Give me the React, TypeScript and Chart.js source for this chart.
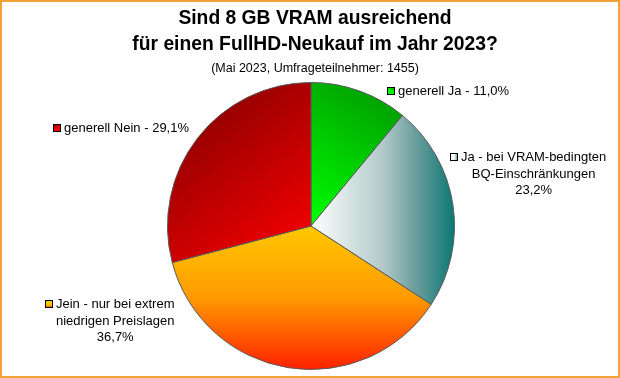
import { useEffect, useRef } from "react";
import { Chart, registerables } from "chart.js";

Chart.register(...registerables);

const titleLines = ["Sind 8 GB VRAM ausreichend", "für einen FullHD-Neukauf im Jahr 2023?"];
const subtitle = "(Mai 2023, Umfrageteilnehmer: 1455)";

const categories = [
  "generell Ja",
  "Ja - bei VRAM-bedingten BQ-Einschränkungen",
  "Jein - nur bei extrem niedrigen Preislagen",
  "generell Nein",
];
const shares = [11.0, 23.2, 36.7, 29.1];
const labelLines = [
  ["generell Ja - 11,0%"],
  ["Ja - bei VRAM-bedingten", "BQ-Einschränkungen", "23,2%"],
  ["Jein - nur bei extrem", "niedrigen Preislagen", "36,7%"],
  ["generell Nein - 29,1%"],
];

// gradient specs: direction relative to pie center/radius, plus colour stops
const gradDirs = [
  [0, 0, 0.64, -1],
  [0, 0, 1, 0],
  [0, 0, 0, 1],
  [-0.85, -0.85, 0, 0.26],
];
const gradStops: [number, string][][] = [
  [[0, "#00ff00"], [1, "#009200"]],
  [[0, "#ffffff"], [0.5, "#b2c9c9"], [0.75, "#629a99"], [1, "#0a7773"]],
  [[0, "#ffc800"], [0.5, "#ff9a00"], [1, "#ff2000"]],
  [[0, "#8a0000"], [1, "#ff0000"]],
];
// label anchors: marker left x, first-line baseline y
const labelAnchors = [
  [387, 95],
  [450, 161],
  [45, 308],
  [53, 132],
];

const FONT = "'Liberation Sans', Arial, sans-serif";

function makeGrad(c: CanvasRenderingContext2D, i: number, x0: number, y0: number, x1: number, y1: number) {
  const g = c.createLinearGradient(x0, y0, x1, y1);
  gradStops[i].forEach(([o, col]) => g.addColorStop(o, col));
  return g;
}

export default function App() {
  const ref = useRef<HTMLCanvasElement>(null);
  useEffect(() => {
    const canvas = ref.current!;
    const decor = {
      id: "decor",
      beforeDraw(chart: any) {
        const c = chart.ctx;
        c.save();
        c.fillStyle = "#ffffff";
        c.fillRect(0, 0, chart.width, chart.height);
        c.restore();
      },
      afterDraw(chart: any) {
        const c: CanvasRenderingContext2D = chart.ctx;
        c.save();
        // frame
        c.strokeStyle = "#f4a234";
        c.lineWidth = 2;
        c.strokeRect(1, 1, chart.width - 2, chart.height - 2);
        // title
        c.fillStyle = "#000";
        c.textAlign = "center";
        c.textBaseline = "alphabetic";
        c.font = `bold 19.3px ${FONT}`;
        c.fillText(titleLines[0], 315, 24);
        c.fillText(titleLines[1], 315, 50);
        c.font = `12.5px ${FONT}`;
        c.fillText(subtitle, 315, 72);
        // labels
        c.font = `13px ${FONT}`;
        labelLines.forEach((lines, i) => {
          const [sx, by] = labelAnchors[i];
          const tx = sx + 11;
          const w0 = c.measureText(lines[0]).width;
          const cxText = tx + w0 / 2;
          // marker
          const d = gradDirs[i];
          const mx = sx + 4, my = by - 4;
          c.fillStyle = makeGrad(c, i, mx + d[0] * 4, my + d[1] * 4, mx + d[2] * 4, my + d[3] * 4);
          c.fillRect(sx, by - 8, 8, 8);
          c.strokeStyle = "#000";
          c.lineWidth = 1;
          c.strokeRect(sx + 0.5, by - 7.5, 7, 7);
          c.fillStyle = "#000";
          c.textAlign = "left";
          c.fillText(lines[0], tx, by);
          c.textAlign = "center";
          for (let k = 1; k < lines.length; k++) {
            c.fillText(lines[k], cxText, by + k * 16.5);
          }
        });
        c.restore();
      },
    };
    const chart = new Chart(canvas, {
      type: "pie",
      data: {
        labels: categories,
        datasets: [
          {
            data: shares,
            backgroundColor: (ctx: any) => {
              const ch = ctx.chart;
              const a = ch.chartArea;
              const i = ctx.dataIndex;
              if (!a || i === undefined) return "#ccc";
              const cx = (a.left + a.right) / 2;
              const cy = (a.top + a.bottom) / 2;
              const r = Math.min(a.right - a.left, a.bottom - a.top) / 2;
              const d = gradDirs[i];
              return makeGrad(ch.ctx, i, cx + d[0] * r, cy + d[1] * r, cx + d[2] * r, cy + d[3] * r);
            },
            borderColor: "#5a5a5a",
            borderWidth: 1,
            hoverOffset: 0,
          },
        ],
      },
      options: {
        responsive: false,
        animation: false,
        devicePixelRatio: 1,
        layout: { padding: { top: 82, bottom: 8, left: 100, right: 98 } },
        plugins: {
          legend: { display: false },
          tooltip: { enabled: false },
          title: { display: false },
        },
      },
      plugins: [decor],
    });
    return () => chart.destroy();
  }, []);
  return (
    <div style={{ position: "absolute", left: 0, top: 0, width: 620, height: 378 }}>
      <canvas ref={ref} width={620} height={378} style={{ display: "block" }} />
    </div>
  );
}
